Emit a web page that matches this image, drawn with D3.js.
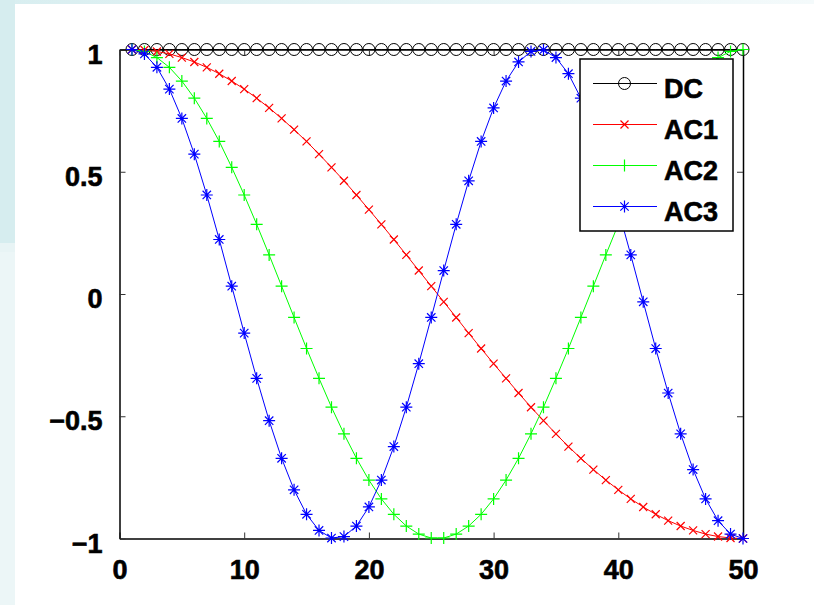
<!DOCTYPE html>
<html>
<head>
<meta charset="utf-8">
<script src="https://cdn.jsdelivr.net/npm/d3@7"></script>
<style>
    body { margin: 0; background: #fff; }
    text { font-family: "Liberation Sans", Arial, sans-serif; font-weight: bold; font-size: 27px; fill: #000; stroke: #000; stroke-width: 0.6px; }
</style>
</head>
<body>
<div id="chart"></div>
<script>
// sample index
const idx = d3.range(1, 51);

const seriesNames = ['DC', 'AC1', 'AC2', 'AC3'];
const seriesColors = ['#000000', '#ff0000', '#00ff00', '#0000ff'];
const seriesMarkers = ['circle', 'x', 'plus', 'star'];

const dc = [1, 1, 1, 1, 1, 1, 1, 1, 1, 1, 1, 1, 1, 1, 1, 1, 1, 1, 1, 1, 1, 1, 1, 1, 1,
    1, 1, 1, 1, 1, 1, 1, 1, 1, 1, 1, 1, 1, 1, 1, 1, 1, 1, 1, 1, 1, 1, 1, 1, 1];

const ac1 = [1.000, 0.998, 0.992, 0.982, 0.967, 0.949, 0.927, 0.901, 0.871, 0.838,
    0.801, 0.761, 0.718, 0.672, 0.624, 0.572, 0.518, 0.463, 0.405, 0.345,
    0.285, 0.223, 0.160, 0.096, 0.032, -0.032, -0.096, -0.160, -0.223, -0.285,
    -0.345, -0.405, -0.463, -0.518, -0.572, -0.624, -0.672, -0.718, -0.761, -0.801,
    -0.838, -0.871, -0.901, -0.927, -0.949, -0.967, -0.982, -0.992, -0.998, -1.000];

const ac2 = [1.000, 0.992, 0.967, 0.927, 0.871, 0.801, 0.718, 0.624, 0.518, 0.405,
    0.285, 0.160, 0.032, -0.096, -0.223, -0.345, -0.463, -0.572, -0.672, -0.761,
    -0.838, -0.901, -0.949, -0.982, -0.998, -0.998, -0.982, -0.949, -0.901, -0.838,
    -0.761, -0.672, -0.572, -0.463, -0.345, -0.223, -0.096, 0.032, 0.160, 0.285,
    0.405, 0.518, 0.624, 0.718, 0.801, 0.871, 0.927, 0.967, 0.992, 1.000];

const ac3 = [1.000, 0.982, 0.927, 0.838, 0.718, 0.572, 0.405, 0.223, 0.032, -0.160,
    -0.345, -0.518, -0.672, -0.801, -0.901, -0.967, -0.998, -0.992, -0.949, -0.871,
    -0.761, -0.624, -0.463, -0.285, -0.096, 0.096, 0.285, 0.463, 0.624, 0.761,
    0.871, 0.949, 0.992, 0.998, 0.967, 0.901, 0.801, 0.672, 0.518, 0.345,
    0.160, -0.032, -0.223, -0.405, -0.572, -0.718, -0.838, -0.927, -0.982, -1.000];

const xTicks = [0, 10, 20, 30, 40, 50];
const yTicks = [-1, -0.5, 0, 0.5, 1];

const width = 814;
const height = 605;
const plot = { left: 119.5, right: 743, top: 49.5, bottom: 538.5 };

const svg = d3.select('#chart')
    .append('svg')
    .attr('width', width)
    .attr('height', height);

// slide background behind the figure
svg.append('rect').attr('width', width).attr('height', height).attr('fill', '#fff');
const grad = svg.append('defs').append('linearGradient').attr('id', 'topfade');
grad.append('stop').attr('offset', '0%').attr('stop-color', '#d8eef0');
grad.append('stop').attr('offset', '100%').attr('stop-color', '#f4fafb');
svg.append('rect').attr('x', 0).attr('y', 0).attr('width', width).attr('height', 4).attr('fill', 'url(#topfade)');
svg.append('rect').attr('x', 0).attr('y', 0).attr('width', 15).attr('height', height).attr('fill', '#ecf6f7');
svg.append('rect').attr('x', 0).attr('y', 0).attr('width', 15).attr('height', 243).attr('fill', '#d6edef');
svg.append('rect').attr('x', 0).attr('y', 243).attr('width', 15).attr('height', 9).attr('fill', '#e8f4f5');

// scales
const x = d3.scaleLinear().domain([0, 50]).range([plot.left, plot.right]);
const y = d3.scaleLinear().domain([-1, 1]).range([plot.bottom, plot.top]);

// axes (ticks point inward on all four sides)
const axisStyle = g => {
    g.select('.domain').attr('stroke', '#000').attr('stroke-width', 1.5);
    g.selectAll('.tick line').attr('stroke', '#333').attr('stroke-width', 1);
};

svg.append('g')
    .attr('transform', `translate(0, ${plot.bottom})`)
    .call(d3.axisBottom(x).tickValues(xTicks).tickSizeInner(-6).tickSizeOuter(0).tickPadding(21))
    .call(axisStyle)
    .call(g => g.selectAll('text').attr('dy', '0.71em').attr('font-size', null).attr('font-family', null));

svg.append('g')
    .attr('transform', `translate(${plot.left}, 0)`)
    .call(d3.axisLeft(y).tickValues(yTicks).tickSizeInner(-6).tickSizeOuter(0).tickPadding(17)
        .tickFormat(d => d3.format('')(d).replace('-', '\u2212')))
    .call(axisStyle)
    .call(g => g.selectAll('text').attr('dy', '0.5em').attr('font-size', null).attr('font-family', null));

svg.append('g')
    .attr('transform', `translate(0, ${plot.top})`)
    .call(d3.axisTop(x).tickValues(xTicks).tickSizeInner(-6).tickSizeOuter(0).tickFormat(''))
    .call(axisStyle);

svg.append('g')
    .attr('transform', `translate(${plot.right}, 0)`)
    .call(d3.axisRight(y).tickValues(yTicks).tickSizeInner(-6).tickSizeOuter(0).tickFormat(''))
    .call(axisStyle);

// marker shapes
const markerPath = type => {
    if (type === 'x') {
        const s = 4;
        return `M${-s},${-s}L${s},${s}M${-s},${s}L${s},${-s}`;
    }
    if (type === 'plus') {
        const s = 6;
        return `M${-s},0L${s},0M0,${-s}L0,${s}`;
    }
    if (type === 'star') {
        const s = 6, d = 4.2;
        return `M${-s},0L${s},0M0,${-s}L0,${s}M${-d},${-d}L${d},${d}M${-d},${d}L${d},${-d}`;
    }
    return null;
};

const drawMarker = (g, type, color) => {
    if (type === 'circle') {
        g.append('circle').attr('r', 6).attr('fill', 'none').attr('stroke', color).attr('stroke-width', 1);
    } else {
        g.append('path').attr('d', markerPath(type)).attr('fill', 'none').attr('stroke', color).attr('stroke-width', 1.2);
    }
};

const series = [dc, ac1, ac2, ac3].map((vals, i) => ({
    name: seriesNames[i],
    color: seriesColors[i],
    marker: seriesMarkers[i],
    points: idx.map((n, j) => ({ n, v: vals[j] }))
}));

const line = d3.line()
    .x(d => x(d.n))
    .y(d => y(d.v));

const lineGroup = svg.append('g');

series.forEach(s => {
    lineGroup.append('path')
        .datum(s.points)
        .attr('d', line)
        .attr('fill', 'none')
        .attr('stroke', s.color)
        .attr('stroke-width', 1);

    lineGroup.append('g')
        .selectAll('g')
        .data(s.points)
        .enter()
        .append('g')
        .attr('transform', d => `translate(${x(d.n)}, ${y(d.v)})`)
        .each(function () { drawMarker(d3.select(this), s.marker, s.color); });
});

// legend
const legend = svg.append('g');
legend.append('rect')
    .attr('x', 580).attr('y', 59)
    .attr('width', 153).attr('height', 172)
    .attr('fill', '#fff')
    .attr('stroke', '#000')
    .attr('stroke-width', 1.5);

const rows = legend.selectAll('.row')
    .data(series)
    .enter()
    .append('g')
    .attr('class', 'row')
    .attr('transform', (d, i) => `translate(0, ${83.5 + i * 41})`);

rows.append('line')
    .attr('x1', 593).attr('x2', 657)
    .attr('stroke', d => d.color)
    .attr('stroke-width', 1);

rows.append('g')
    .attr('transform', 'translate(624.5, 0)')
    .each(function (d) { drawMarker(d3.select(this), d.marker, d.color); });

rows.append('text')
    .attr('x', 664)
    .attr('y', 14)
    .text(d => d.name);
</script>
</body>
</html>
